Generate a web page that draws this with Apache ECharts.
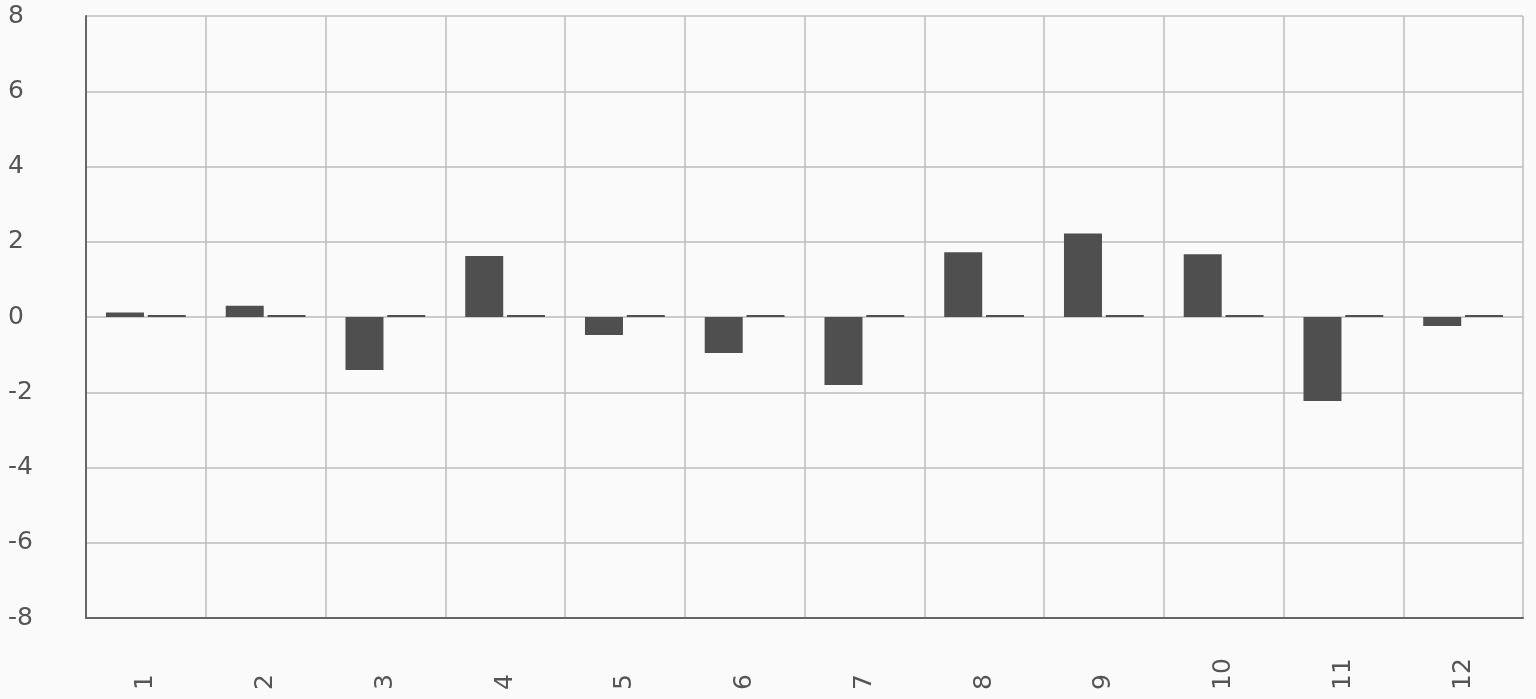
<!DOCTYPE html>
<html><head><meta charset="utf-8">
<script src="https://cdn.jsdelivr.net/npm/echarts@6/dist/echarts.min.js"></script>
<style>html,body{margin:0;padding:0;background:#fafafa}#c{width:1536px;height:699px}</style>
</head><body><div id="c"></div>
<script>
var categories = ['1','2','3','4','5','6','7','8','9','10','11','12'];
var seriesA = [0.12, 0.3, -1.41, 1.62, -0.48, -0.96, -1.81, 1.72, 2.22, 1.67, -2.23, -0.24];
var seriesB = [0, 0, 0, 0, 0, 0, 0, 0, 0, 0, 0, 0];
var yMin = -8, yMax = 8, yStep = 2;

var chart = echarts.init(document.getElementById('c'));
chart.setOption({
  backgroundColor: '#fafafa',
  animation: false,
  grid: {left: 86, right: 13, top: 16, bottom: 81, containLabel: false},
  xAxis: {
    type: 'category', data: categories,
    axisLine: {show: true, onZero: false, lineStyle: {color: '#666', width: 2}},
    axisTick: {show: false},
    splitLine: {show: true, interval: 0, lineStyle: {color: '#bdbdbd', width: 1.5}},
    axisLabel: {rotate: 90, align: 'left', margin: 72, fontSize: 25, color: '#555', fontFamily: 'DejaVu Sans', interval: 0}
  },
  yAxis: {
    type: 'value', min: yMin, max: yMax, interval: yStep,
    axisLine: {show: true, lineStyle: {color: '#666', width: 2}},
    axisTick: {show: false},
    splitLine: {lineStyle: {color: '#bdbdbd', width: 1.5}},
    axisLabel: {align: 'left', margin: 78, fontSize: 25, color: '#555', fontFamily: 'DejaVu Sans'}
  },
  series: [
    {type: 'bar', data: seriesA, barWidth: 38, barGap: '10%', itemStyle: {color: '#4f4f4f'}},
    {type: 'bar', data: seriesB, barWidth: 38, barMinHeight: 2, itemStyle: {color: '#4f4f4f'}}
  ]
});
</script></body></html>
